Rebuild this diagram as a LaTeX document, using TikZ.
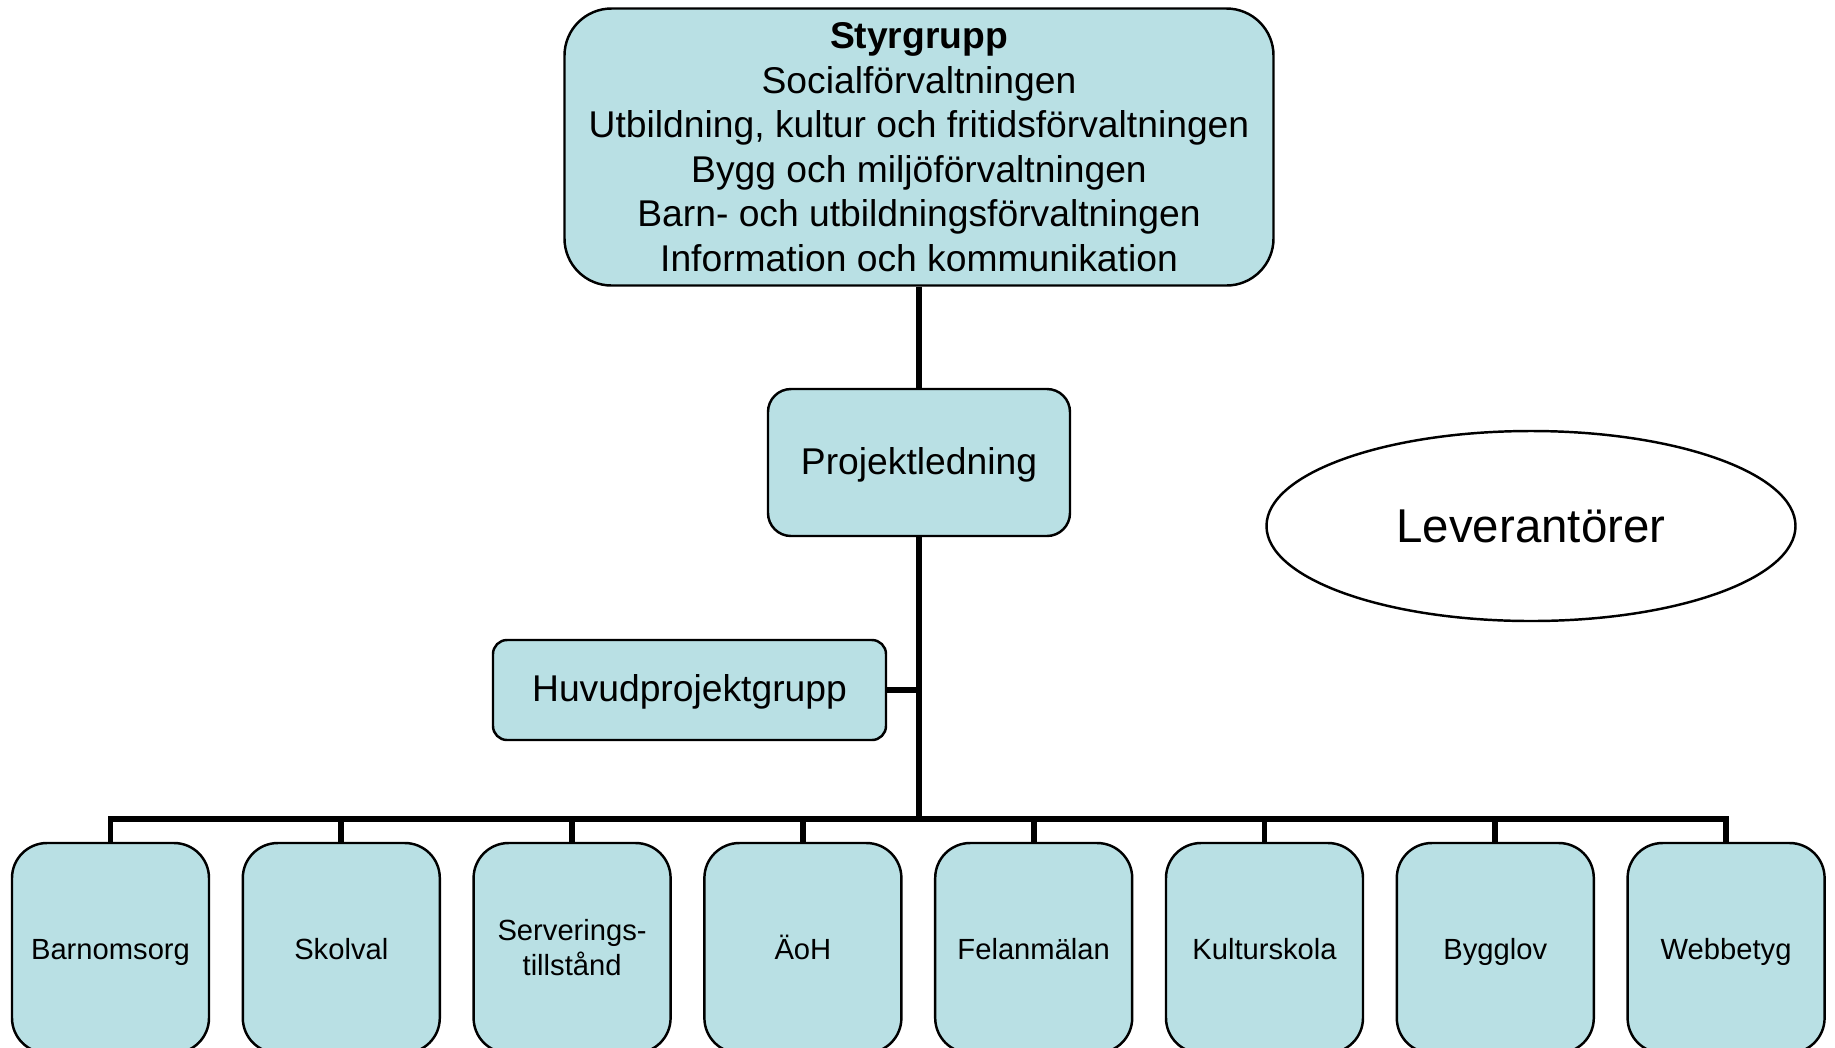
\documentclass[tikz,border=0pt]{standalone}
\usepackage{fontspec}
\setmainfont{Liberation Sans}
\usetikzlibrary{shapes.geometric}
\definecolor{boxblue}{RGB}{185,224,228}
\tikzset{
  unit/.style={draw, fill=boxblue, line width=0.7pt, rounded corners=#1,
    align=center, inner sep=0pt},
  unit/.default=3.5mm,
  oneline/.style={text height=0.88em, text depth=0.212em},
  twoline/.style={},
  link/.style={line width=1.6pt},
}
\begin{document}
\begin{tikzpicture}
\useasboundingbox (0,0) rectangle (18.35,-10.47);
% top of the tree
\node[unit=4.7mm, minimum width=7.09cm, minimum height=2.77cm,
  font=\fontsize{10.6}{12.66}\selectfont] (styr) at (9.19,-1.47)
  {\textbf{Styrgrupp}\\Socialförvaltningen\\Utbildning, kultur och fritidsförvaltningen\\
   Bygg och miljöförvaltningen\\Barn- och utbildningsförvaltningen\\
   Information och kommunikation};
\node[unit=2.3mm, oneline, minimum width=3.02cm, minimum height=1.47cm,
  font=\fontsize{10.6}{12.7}\selectfont] (ledning) at (9.19,-4.625) {Projektledning};
\node[unit=1.4mm, oneline, minimum width=3.93cm, minimum height=1cm,
  font=\fontsize{10.6}{12.7}\selectfont] (huvud) at (6.895,-6.9) {Huvudprojektgrupp};
\node[draw, ellipse, fill=white, line width=0.7pt, minimum width=5.29cm,
  minimum height=1.9cm, inner sep=0pt, font=\fontsize{13.5}{16}\selectfont]
  (lev) at (15.31,-5.26) {Leverantörer};
\coordinate (bus) at (9.19,-8.19);
\draw[link] (styr) -- (ledning);
\draw[link] (ledning) -- (bus);
\draw[link] (huvud.east) -- (huvud.east -| bus);
% the eight services
\foreach \name/\txt/\kind [count=\i from 0] in {barn/Barnomsorg/oneline,
    skol/Skolval/oneline, serv/{Serverings-\\tillstånd}/twoline, aoh/ÄoH/oneline,
    fel/Felanmälan/oneline, kult/Kulturskola/oneline, bygg/Bygglov/oneline,
    webb/Webbetyg/oneline}{
  \node[unit, \kind, minimum width=1.97cm, minimum height=2.1cm,
    font=\fontsize{8.3}{9.96}\selectfont] (\name) at (1.105+\i*2.308,-9.48) {\txt};
  \draw[link] (\name.north) |- (bus);
}
\end{tikzpicture}
\end{document}
